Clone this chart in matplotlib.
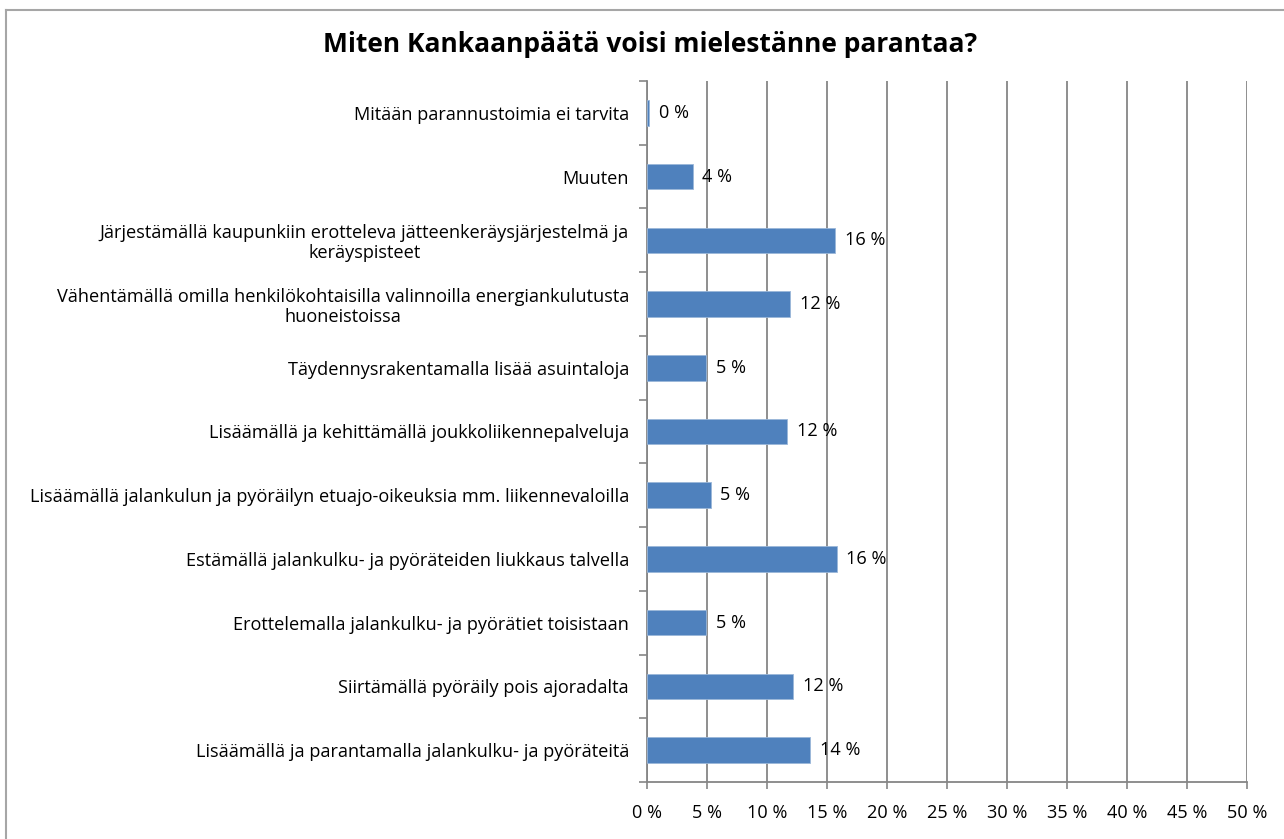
import numpy as np
import matplotlib.pyplot as plt
from matplotlib.lines import Line2D

categories = [
    "Mitään parannustoimia ei tarvita",
    "Muuten",
    "Järjestämällä kaupunkiin erotteleva jätteenkeräysjärjestelmä ja\nkeräyspisteet",
    "Vähentämällä omilla henkilökohtaisilla valinnoilla energiankulutusta\nhuoneistoissa",
    "Täydennysrakentamalla lisää asuintaloja",
    "Lisäämällä ja kehittämällä joukkoliikennepalveluja",
    "Lisäämällä jalankulun ja pyöräilyn etuajo-oikeuksia mm. liikennevaloilla",
    "Estämällä jalankulku- ja pyöräteiden liukkaus talvella",
    "Erottelemalla jalankulku- ja pyörätiet toisistaan",
    "Siirtämällä pyöräily pois ajoradalta",
    "Lisäämällä ja parantamalla jalankulku- ja pyöräteitä",
]
values = [0.2, 3.8, 15.7, 11.9, 4.9, 11.7, 5.3, 15.8, 4.9, 12.2, 13.6]
xticks = [0, 5, 10, 15, 20, 25, 30, 35, 40, 45, 50]

title = "Miten Kankaanpäätä voisi mielestänne parantaa?"
bar_color = "#4F81BD"
grid_color = "#868686"
fs = 13.1

plt.rcParams['font.family'] = ['Open Sans', 'DejaVu Sans']

fig = plt.figure(figsize=(12.84, 8.39), dpi=100)
ax = fig.add_axes([647 / 1284, 1 - 782 / 839, 600 / 1284, 701 / 839])

ypos = np.arange(len(categories))
ax.barh(ypos, values, height=0.4, color=bar_color, edgecolor="#9BB7D9", linewidth=0.6, zorder=3)

# data labels
for y, v in zip(ypos, values):
    ax.annotate("%d %%" % round(v), (v, y), xytext=(7, 0), textcoords="offset points",
                ha="left", va="center", fontsize=fs, color="black")

ax.set_xlim(0, 50)
ax.set_ylim(len(categories) - 0.5, -0.5)
ax.set_xticks(xticks)
ax.set_xticklabels(["%d %%" % t for t in xticks], fontsize=fs)
ax.set_yticks(ypos)
ax.set_yticklabels(categories, fontsize=fs, multialignment="center", linespacing=1.15)
ax.set_yticks(np.arange(len(categories) + 1) - 0.5, minor=True)

ax.tick_params(axis="y", which="major", length=0, pad=13)
ax.tick_params(axis="y", which="minor", length=6, width=1.2, color=grid_color, direction="out")
ax.tick_params(axis="x", which="major", length=5, width=1.2, color=grid_color, direction="out", pad=11)

ax.xaxis.grid(True, color=grid_color, linewidth=1.3, zorder=0)
ax.set_axisbelow(True)
for side in ["top", "right"]:
    ax.spines[side].set_visible(False)
for side in ["left", "bottom"]:
    ax.spines[side].set_color(grid_color)
    ax.spines[side].set_linewidth(1.3)

fig.text(650 / 1284, 1 - 45 / 839, title, ha="center", va="center", fontsize=19, fontweight="bold")

# chart frame
fig.add_artist(Line2D([6 / 1284, 6 / 1284], [0, 1 - 9.5 / 839], transform=fig.transFigure,
                      color="#A6A6A6", linewidth=1.5))
fig.add_artist(Line2D([6 / 1284, 1], [1 - 9.5 / 839, 1 - 9.5 / 839], transform=fig.transFigure,
                      color="#A6A6A6", linewidth=1.5))

fig.savefig("out.png", dpi=100)
